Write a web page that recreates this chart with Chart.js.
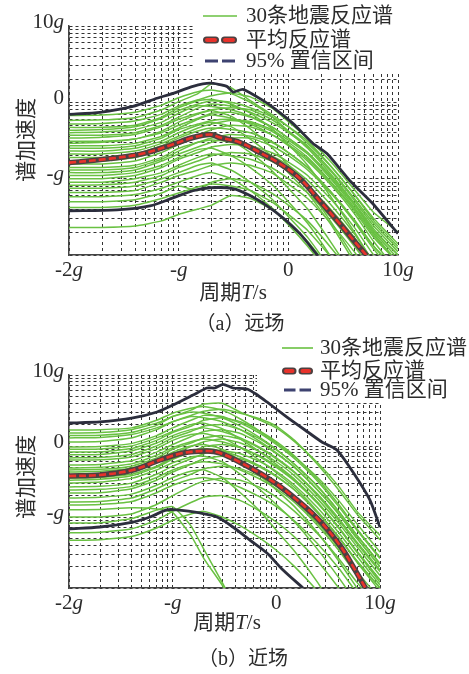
<!DOCTYPE html>
<html>
<head>
<meta charset="utf-8">
<script src="https://cdn.jsdelivr.net/npm/chart.js@4.4.1/dist/chart.umd.min.js"></script>
<style>
    html, body { margin: 0; padding: 0; background: #fff; }
    #wrap { position: relative; width: 469px; height: 674px; }
    .panel { position: absolute; left: 0; width: 469px; height: 337px; }
</style>
</head>
<body>
<div id="wrap">
    <div class="panel" style="top:0"><canvas id="chartFar" width="469" height="337"></canvas></div>
    <div class="panel" style="top:337px"><canvas id="chartNear" width="469" height="337"></canvas></div>
</div>
<script>
// --- datos ---
const periods = [0.01, 0.02, 0.04, 0.07, 0.1, 0.15, 0.2, 0.3, 0.45, 0.7, 1, 1.5, 2.5, 4, 6, 10];

// (a) 远场: 30 registros
const farRecords = [
    [0.67, 0.68, 0.74, 0.92, 1.15, 1.38, 1.45, 1.30, 1.00, 0.66, 0.42, 0.25, 0.11, 0.048, 0.022, 0.010],
    [0.58, 0.59, 0.63, 0.80, 1.02, 1.30, 1.75, 1.55, 1.05, 0.70, 0.48, 0.29, 0.14, 0.062, 0.030, 0.014],
    [0.52, 0.53, 0.57, 0.70, 0.90, 1.08, 1.22, 1.32, 1.18, 0.85, 0.56, 0.34, 0.16, 0.072, 0.036, 0.020],
    [0.47, 0.47, 0.50, 0.64, 0.85, 1.05, 1.10, 0.95, 0.72, 0.46, 0.28, 0.15, 0.055, 0.020, 0.008, 0.003],
    [0.43, 0.44, 0.48, 0.62, 0.78, 0.95, 1.05, 1.00, 0.85, 0.65, 0.48, 0.31, 0.14, 0.062, 0.028, 0.013],
    [0.40, 0.41, 0.44, 0.55, 0.72, 0.90, 0.88, 0.80, 0.66, 0.48, 0.34, 0.22, 0.10, 0.045, 0.020, 0.009],
    [0.37, 0.37, 0.40, 0.50, 0.64, 0.84, 0.95, 0.90, 0.74, 0.55, 0.40, 0.26, 0.12, 0.052, 0.024, 0.011],
    [0.34, 0.35, 0.38, 0.48, 0.60, 0.72, 0.80, 0.85, 0.80, 0.60, 0.42, 0.27, 0.125, 0.055, 0.026, 0.012],
    [0.31, 0.31, 0.33, 0.42, 0.55, 0.70, 0.78, 0.66, 0.45, 0.26, 0.15, 0.075, 0.026, 0.009, 0.003, 0.001],
    [0.29, 0.30, 0.33, 0.40, 0.50, 0.62, 0.72, 0.74, 0.64, 0.48, 0.34, 0.22, 0.105, 0.046, 0.021, 0.010],
    [0.27, 0.27, 0.29, 0.36, 0.46, 0.60, 0.68, 0.62, 0.52, 0.38, 0.27, 0.17, 0.08, 0.035, 0.015, 0.006],
    [0.25, 0.25, 0.27, 0.34, 0.44, 0.52, 0.58, 0.60, 0.56, 0.44, 0.32, 0.21, 0.095, 0.042, 0.019, 0.008],
    [0.23, 0.23, 0.25, 0.31, 0.40, 0.50, 0.55, 0.48, 0.33, 0.20, 0.12, 0.065, 0.024, 0.008, 0.003, 0.001],
    [0.21, 0.21, 0.23, 0.29, 0.36, 0.46, 0.52, 0.58, 0.54, 0.42, 0.30, 0.19, 0.088, 0.040, 0.018, 0.008],
    [0.19, 0.19, 0.21, 0.27, 0.34, 0.42, 0.46, 0.44, 0.40, 0.31, 0.22, 0.14, 0.064, 0.027, 0.012, 0.005],
    [0.17, 0.17, 0.19, 0.24, 0.30, 0.37, 0.44, 0.50, 0.48, 0.38, 0.28, 0.18, 0.085, 0.038, 0.017, 0.008],
    [0.155, 0.156, 0.17, 0.22, 0.28, 0.36, 0.40, 0.32, 0.22, 0.13, 0.075, 0.040, 0.014, 0.005, 0.002, 0.001],
    [0.14, 0.14, 0.15, 0.19, 0.25, 0.30, 0.34, 0.38, 0.36, 0.30, 0.22, 0.14, 0.065, 0.029, 0.013, 0.006],
    [0.13, 0.13, 0.14, 0.18, 0.23, 0.30, 0.32, 0.30, 0.26, 0.20, 0.15, 0.095, 0.044, 0.019, 0.008, 0.003],
    [0.12, 0.12, 0.13, 0.17, 0.21, 0.26, 0.30, 0.34, 0.34, 0.27, 0.20, 0.13, 0.062, 0.028, 0.013, 0.006],
    [0.11, 0.11, 0.12, 0.15, 0.19, 0.24, 0.25, 0.20, 0.14, 0.085, 0.05, 0.026, 0.009, 0.003, 0.001, 0.0004],
    [0.10, 0.10, 0.11, 0.14, 0.18, 0.22, 0.26, 0.28, 0.27, 0.22, 0.165, 0.11, 0.052, 0.023, 0.010, 0.004],
    [0.09, 0.09, 0.10, 0.12, 0.15, 0.19, 0.21, 0.20, 0.18, 0.14, 0.10, 0.065, 0.030, 0.013, 0.006, 0.002],
    [0.082, 0.083, 0.09, 0.11, 0.14, 0.17, 0.20, 0.22, 0.21, 0.17, 0.125, 0.08, 0.038, 0.017, 0.0075, 0.003],
    [0.075, 0.075, 0.08, 0.10, 0.12, 0.15, 0.16, 0.13, 0.09, 0.055, 0.032, 0.017, 0.006, 0.002, 0.0008, 0.0003],
    [0.066, 0.066, 0.07, 0.09, 0.11, 0.13, 0.15, 0.16, 0.15, 0.12, 0.085, 0.055, 0.025, 0.011, 0.005, 0.002],
    [0.058, 0.058, 0.062, 0.075, 0.09, 0.11, 0.12, 0.10, 0.07, 0.042, 0.025, 0.013, 0.005, 0.0017, 0.0006, 0.0002],
    [0.050, 0.050, 0.053, 0.065, 0.080, 0.070, 0.090, 0.10, 0.09, 0.065, 0.045, 0.028, 0.012, 0.005, 0.002, 0.0008],
    [0.042, 0.042, 0.045, 0.055, 0.065, 0.078, 0.085, 0.08, 0.07, 0.05, 0.034, 0.021, 0.009, 0.0035, 0.0014, 0.0005],
    [0.023, 0.023, 0.024, 0.028, 0.034, 0.040, 0.045, 0.060, 0.055, 0.040, 0.026, 0.015, 0.006, 0.0025, 0.001, 0.0004]
];
const farMeanT = [0.01, 0.0237, 0.0473, 0.083, 0.135, 0.193, 0.238, 0.362, 0.551, 0.838, 1.28, 1.94, 2.95, 4.5, 5.2];
const farMeanSa = [0.162, 0.183, 0.213, 0.272, 0.346, 0.379, 0.346, 0.298, 0.22, 0.157, 0.1, 0.051, 0.0256, 0.0124, 0.0098];
const farUpperT = [0.01, 0.0192, 0.0383, 0.0634, 0.0887, 0.135, 0.193, 0.275, 0.313, 0.385, 0.586, 0.787, 1.10, 1.68, 2.25, 3.64, 5.90, 10];
const farUpperSa = [0.695, 0.74, 0.885, 1.13, 1.31, 1.62, 1.78, 1.62, 1.36, 1.48, 1.06, 0.785, 0.53, 0.289, 0.213, 0.094, 0.047, 0.019];
const farLowerT = [0.01, 0.0274, 0.0547, 0.0887, 0.135, 0.193, 0.313, 0.447, 0.638, 0.893, 1.28, 1.86];
const farLowerSa = [0.038, 0.039, 0.044, 0.056, 0.0695, 0.076, 0.074, 0.060, 0.044, 0.0307, 0.0189, 0.0098];

// (b) 近场: 30 registros
const nearRecords = [
    [1.68, 1.70, 1.80, 2.30, 2.90, 3.40, 3.60, 3.20, 2.40, 1.60, 1.10, 0.70, 0.36, 0.17, 0.080, 0.032],
    [1.52, 1.55, 1.70, 2.10, 2.60, 3.20, 3.90, 4.00, 3.00, 2.30, 1.80, 1.15, 0.58, 0.27, 0.12, 0.055],
    [1.40, 1.42, 1.55, 1.95, 2.60, 3.00, 2.90, 2.50, 1.90, 1.30, 0.90, 0.55, 0.27, 0.12, 0.055, 0.022],
    [1.30, 1.32, 1.45, 1.80, 2.20, 2.70, 3.10, 3.30, 2.90, 2.40, 1.90, 1.20, 0.55, 0.24, 0.11, 0.048],
    [1.14, 1.16, 1.30, 1.70, 2.20, 2.60, 2.50, 2.20, 1.70, 1.15, 0.80, 0.50, 0.24, 0.11, 0.050, 0.020],
    [0.97, 0.98, 1.08, 1.40, 1.80, 2.30, 2.70, 2.60, 2.10, 1.50, 1.05, 0.66, 0.32, 0.14, 0.065, 0.026],
    [0.90, 0.91, 1.00, 1.30, 1.60, 2.00, 2.10, 1.75, 1.25, 0.82, 0.55, 0.34, 0.16, 0.070, 0.032, 0.012],
    [0.82, 0.83, 0.92, 1.20, 1.55, 1.90, 2.30, 2.50, 2.20, 1.60, 1.15, 0.72, 0.34, 0.15, 0.068, 0.027],
    [0.75, 0.76, 0.85, 1.10, 1.40, 1.70, 1.80, 1.60, 1.30, 0.95, 0.68, 0.43, 0.21, 0.095, 0.044, 0.018],
    [0.68, 0.69, 0.76, 1.00, 1.30, 1.60, 1.90, 2.00, 1.70, 1.25, 0.88, 0.55, 0.27, 0.12, 0.055, 0.022],
    [0.635, 0.64, 0.70, 0.92, 1.20, 1.45, 1.50, 1.30, 0.95, 0.62, 0.42, 0.26, 0.12, 0.052, 0.023, 0.009],
    [0.54, 0.55, 0.62, 0.82, 1.05, 1.35, 1.60, 1.70, 1.50, 1.10, 0.78, 0.50, 0.24, 0.11, 0.050, 0.020],
    [0.49, 0.50, 0.56, 0.74, 0.95, 1.15, 1.25, 1.15, 0.95, 0.70, 0.50, 0.32, 0.155, 0.070, 0.032, 0.013],
    [0.46, 0.47, 0.52, 0.68, 0.90, 1.10, 1.30, 1.40, 1.25, 0.92, 0.66, 0.42, 0.20, 0.090, 0.042, 0.017],
    [0.43, 0.44, 0.49, 0.64, 0.82, 1.00, 1.05, 0.90, 0.62, 0.38, 0.24, 0.14, 0.060, 0.024, 0.010, 0.0035],
    [0.39, 0.40, 0.45, 0.60, 0.78, 0.98, 1.15, 1.25, 1.10, 0.82, 0.60, 0.38, 0.18, 0.082, 0.038, 0.015],
    [0.354, 0.36, 0.40, 0.52, 0.68, 0.85, 0.92, 0.85, 0.70, 0.52, 0.38, 0.24, 0.115, 0.052, 0.024, 0.010],
    [0.33, 0.34, 0.38, 0.50, 0.65, 0.82, 0.98, 1.05, 0.95, 0.72, 0.52, 0.33, 0.16, 0.072, 0.033, 0.013],
    [0.30, 0.31, 0.35, 0.46, 0.58, 0.70, 0.72, 0.60, 0.40, 0.24, 0.15, 0.085, 0.035, 0.014, 0.006, 0.002],
    [0.265, 0.27, 0.30, 0.40, 0.52, 0.66, 0.78, 0.85, 0.78, 0.60, 0.44, 0.28, 0.135, 0.060, 0.028, 0.011],
    [0.24, 0.245, 0.27, 0.36, 0.46, 0.56, 0.60, 0.56, 0.46, 0.34, 0.25, 0.16, 0.076, 0.034, 0.015, 0.006],
    [0.218, 0.22, 0.25, 0.33, 0.43, 0.55, 0.66, 0.72, 0.66, 0.50, 0.37, 0.24, 0.115, 0.052, 0.024, 0.010],
    [0.185, 0.19, 0.21, 0.28, 0.36, 0.44, 0.46, 0.36, 0.22, 0.12, 0.065, 0.033, 0.012, 0.004, 0.0015, 0.0005],
    [0.163, 0.165, 0.185, 0.25, 0.32, 0.40, 0.48, 0.52, 0.48, 0.37, 0.27, 0.17, 0.082, 0.037, 0.017, 0.007],
    [0.147, 0.15, 0.165, 0.22, 0.28, 0.34, 0.36, 0.32, 0.26, 0.19, 0.14, 0.088, 0.042, 0.019, 0.0085, 0.0034],
    [0.126, 0.128, 0.135, 0.130, 0.115, 0.055, 0.026, 0.011, 0.004, 0.0015, 0.0006, 0.0003, 0.0002, 0.0002, 0.0002, 0.0002],
    [0.10, 0.10, 0.11, 0.15, 0.20, 0.27, 0.32, 0.35, 0.33, 0.26, 0.19, 0.12, 0.058, 0.026, 0.012, 0.005],
    [0.082, 0.083, 0.095, 0.125, 0.140, 0.075, 0.035, 0.012, 0.004, 0.0015, 0.0006, 0.0003, 0.0002, 0.0002, 0.0002, 0.0002],
    [0.060, 0.061, 0.068, 0.09, 0.12, 0.16, 0.19, 0.20, 0.17, 0.12, 0.085, 0.052, 0.024, 0.010, 0.0045, 0.0018],
    [0.047, 0.048, 0.053, 0.07, 0.09, 0.11, 0.12, 0.10, 0.075, 0.05, 0.034, 0.02, 0.009, 0.0037, 0.0015, 0.0006]
];
const nearMeanT = [0.01, 0.0199, 0.0414, 0.0754, 0.126, 0.214, 0.286, 0.446, 0.811, 1.3, 2.5, 4.1, 5.5, 7.3];
const nearMeanSa = [0.378, 0.391, 0.459, 0.635, 0.797, 0.851, 0.797, 0.59, 0.36, 0.22, 0.095, 0.04, 0.02, 0.0098];
const nearUpperT = [0.01, 0.0199, 0.0414, 0.0706, 0.1007, 0.157, 0.214, 0.256, 0.306, 0.381, 0.521, 0.635, 0.811, 1.265, 1.89, 2.75, 3.84, 5.48, 8.0, 10];
const nearUpperSa = [2.11, 2.18, 2.48, 3.01, 3.78, 5.22, 6.56, 6.56, 7.4, 6.56, 6.35, 5.4, 4.17, 2.56, 1.68, 1.14, 0.88, 0.43, 0.173, 0.072];
const nearLowerT = [0.01, 0.0199, 0.0414, 0.0604, 0.088, 0.11, 0.183, 0.268, 0.381, 0.556, 0.811, 1.16, 1.81];
const nearLowerSa = [0.0678, 0.0723, 0.085, 0.1, 0.126, 0.126, 0.114, 0.1, 0.0723, 0.0474, 0.0311, 0.0179, 0.01];

// etiquetas
const xTickValues = [0.01, 0.1, 1, 10];
const xTickLabels = ["-2g", "-g", "0", "10g"];
const yTickValues = [10, 1, 0.1];
const yTickLabels = ["10g", "0", "-g"];
const gridDecades = [0.01, 0.1, 1];
const gridMantissas = [1, 2, 3, 4, 5, 6, 7, 8, 9];
const legendLabels = ["30条地震反应谱", "平均反应谱", "95% 置信区间"];
const xTitle = "周期T/s";
const yTitle = "谱加速度";

const FONT = '"Times New Roman", "Liberation Serif", "DejaVu Serif", "Noto Sans CJK SC", serif';
const GREEN = "#69c142";
const RED = "#e8322b";
const DARK = "#2c2e3d";

// texto con letras en cursiva
function drawRich(ctx, text, italics, x, y, align, size) {
    const parts = [];
    for (const ch of text) {
        const it = italics.length > 0 && italics.includes(ch);
        const last = parts[parts.length - 1];
        if (last && last.it === it) last.s += ch;
        else parts.push({ s: ch, it });
    }
    const fontOf = p => (p.it ? "italic " : "") + size + "px " + FONT;
    let w = 0;
    parts.forEach(p => { ctx.font = fontOf(p); p.w = ctx.measureText(p.s).width; w += p.w; });
    let cx = align === "center" ? x - w / 2 : align === "right" ? x - w : x;
    ctx.textAlign = "left";
    ctx.textBaseline = "middle";
    parts.forEach(p => { ctx.font = fontOf(p); ctx.fillText(p.s, cx, y); cx += p.w; });
}

function gridTicks() {
    const t = [];
    gridDecades.forEach(d => gridMantissas.forEach(m => t.push({ value: Math.round(d * m * 1e6) / 1e6 })));
    t.push({ value: 10 });
    return t;
}

const decor = {
    id: "decor",
    beforeDatasetsDraw(chart, args, o) {
        const ctx = chart.ctx;
        ctx.save();
        ctx.fillStyle = "#fff";
        ctx.fillRect(o.box[0], o.box[1], o.box[2], o.box[3]);
        ctx.restore();
    },
    afterDraw(chart, args, o) {
        const ctx = chart.ctx;
        const xs = chart.scales.x, ys = chart.scales.y;
        ctx.save();
        ctx.fillStyle = "#2b2b2b";
        xTickValues.forEach((v, i) => drawRich(ctx, xTickLabels[i], "g", xs.getPixelForValue(v), ys.bottom + 15, "center", 21));
        yTickValues.forEach((v, i) => drawRich(ctx, yTickLabels[i], "g", xs.left - 5, ys.getPixelForValue(v) - 4, "right", 21));
        drawRich(ctx, xTitle, "T", o.xTitle[0], o.xTitle[1], "center", 21);
        ctx.save();
        ctx.translate(o.yTitle[0], o.yTitle[1]);
        ctx.rotate(-Math.PI / 2);
        drawRich(ctx, yTitle, "", 0, 0, "center", 21);
        ctx.restore();
        drawRich(ctx, o.caption, "", o.captionPos[0], o.captionPos[1], "center", 20);

        // --- leyenda ---
        const [x0, x1] = o.sample;
        const rows = o.rows;
        ctx.lineCap = "butt";
        ctx.strokeStyle = GREEN;
        ctx.lineWidth = 1.6;
        ctx.beginPath(); ctx.moveTo(x0, rows[0]); ctx.lineTo(x1, rows[0]); ctx.stroke();

        const half = (x1 - x0 - 2) / 2;
        [x0, x0 + half + 2].forEach(sx => {
            ctx.fillStyle = "#4d4040";
            ctx.beginPath(); ctx.roundRect(sx, rows[1] - 3.5, half, 7, 3.5); ctx.fill();
            ctx.fillStyle = RED;
            ctx.beginPath(); ctx.roundRect(sx + 2, rows[1] - 2, half - 4, 4, 2); ctx.fill();
        });

        ctx.strokeStyle = "#3d4270";
        ctx.lineWidth = 3;
        ctx.beginPath();
        ctx.moveTo(x0 + 2, rows[2]); ctx.lineTo(x0 + half - 1, rows[2]);
        ctx.moveTo(x0 + half + 3, rows[2]); ctx.lineTo(x1 - 2, rows[2]);
        ctx.stroke();

        ctx.fillStyle = "#2b2b2b";
        legendLabels.forEach((s, i) => drawRich(ctx, s, "", o.textX, rows[i], "left", 21));
        ctx.restore();
    }
};

function pts(ts, vs) {
    return ts.map((t, i) => ({ x: t, y: vs[i] }));
}

function buildChart(id, records, meanT, meanSa, upT, upSa, loT, loSa, padding, decorOpts) {
    const datasets = [
        { data: pts(meanT, meanSa), borderColor: RED, borderWidth: 2.6, borderDash: [7, 3], tension: 0.35 },
        { data: pts(meanT, meanSa), borderColor: "#4d4040", borderWidth: 5.5, tension: 0.35 },
        { data: pts(upT, upSa), borderColor: DARK, borderWidth: 2.8, tension: 0.2 },
        { data: pts(loT, loSa), borderColor: DARK, borderWidth: 2.8, tension: 0.3 }
    ];
    records.forEach(r => datasets.push({ data: pts(periods, r), borderColor: GREEN, borderWidth: 1.5, tension: 0.15 }));

    const axis = {
        type: "logarithmic",
        min: 0.01,
        max: 10,
        afterBuildTicks: s => { s.ticks = gridTicks(); },
        ticks: { display: false, autoSkip: false },
        grid: { color: "#333", lineWidth: 1, drawTicks: false },
        border: { display: true, color: "#444", width: 1.5, dash: [3, 3] }
    };

    return new Chart(document.getElementById(id), {
        type: "line",
        data: { datasets },
        options: {
            responsive: false,
            animation: false,
            events: [],
            layout: { padding },
            elements: { point: { radius: 0 }, line: { fill: false } },
            scales: { x: { ...axis }, y: { ...axis } },
            plugins: { legend: { display: false }, tooltip: { enabled: false }, decor: decorOpts }
        },
        plugins: [decor]
    });
}

buildChart("chartFar", farRecords, farMeanT, farMeanSa, farUpperT, farUpperSa, farLowerT, farLowerSa,
    { left: 69, top: 26, right: 71, bottom: 82 },
    {
        box: [195, 0, 274, 72],
        sample: [203, 237], rows: [16, 40, 61], textX: 246,
        xTitle: [233, 293], yTitle: [27, 140],
        caption: "（a）远场", captionPos: [240, 325]
    });

buildChart("chartNear", nearRecords, nearMeanT, nearMeanSa, nearUpperT, nearUpperSa, nearLowerT, nearLowerSa,
    { left: 69, top: 38, right: 89, bottom: 86 },
    {
        box: [257, 0, 212, 66],
        sample: [282, 313], rows: [11, 34, 53], textX: 320,
        xTitle: [227, 286], yTitle: [27, 140],
        caption: "（b）近场", captionPos: [243, 323]
    });
</script>
</body>
</html>
